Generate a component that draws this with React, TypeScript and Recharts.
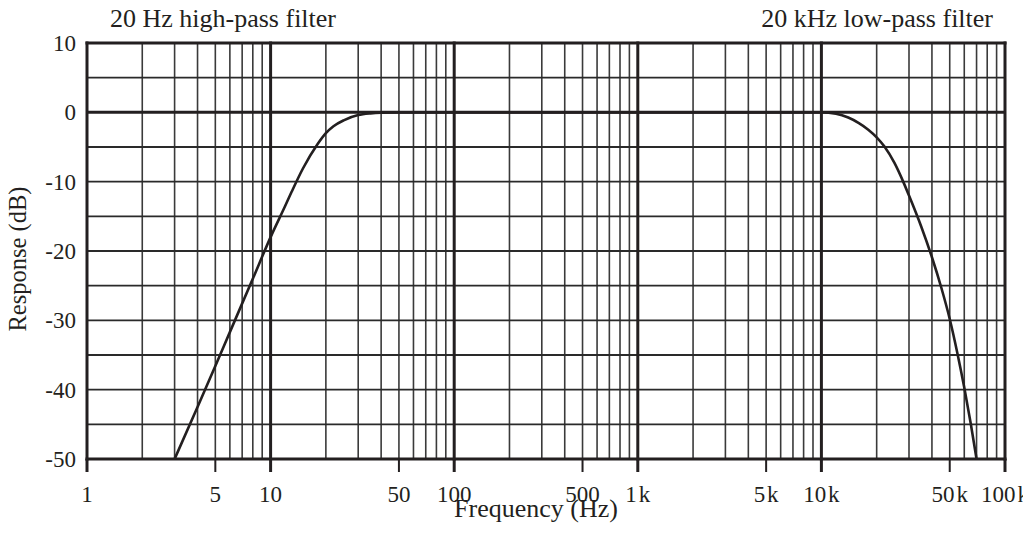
import React from 'react';
import { LineChart, Line, XAxis, YAxis, ReferenceLine } from 'recharts';

// response curve (Hz, dB)
const highPassFreq = [3, 4, 5, 6, 8, 10, 12, 13, 15, 18, 20, 22, 25, 30, 35, 40, 50];
const highPassDb = [-50, -42.5, -36.6, -31.7, -24.0, -18.0, -13.5, -11.5, -8.1, -4.6, -3.0, -2.0, -1.15, -0.4, -0.15, -0.05, 0];
const passbandFreq = [100, 1000];
const passbandDb = [0, 0];
const lowPassFreq = [10000, 12000, 14000, 16000, 18000, 20000, 22000, 25000, 28000, 30000, 35000, 40000, 45000, 50000, 55000, 60000, 65000, 70000];
const lowPassDb = [0, -0.2, -0.75, -1.55, -2.5, -3.6, -4.9, -7.3, -10.1, -12.0, -16.5, -20.9, -25.3, -29.8, -34.7, -39.7, -44.8, -50];

const xTicks = [1, 5, 10, 50, 100, 500, 1000, 5000, 10000, 50000, 100000];
const xTickLabels = ['1', '5', '10', '50', '100', '500', '1\u200ak', '5\u200ak', '10\u200ak', '50\u200ak', '100\u200ak'];
const yTicks = [-50, -40, -30, -20, -10, 0, 10];
const decades = [1, 10, 100, 1000, 10000, 100000];
const minorSteps = [2, 3, 4, 5, 6, 7, 8, 9];
const dbGrid = [-45, -40, -35, -30, -25, -20, -15, -10, -5, 5];

const data = [
  ...highPassFreq.map((f, i) => ({ f, db: highPassDb[i] })),
  ...passbandFreq.map((f, i) => ({ f, db: passbandDb[i] })),
  ...lowPassFreq.map((f, i) => ({ f, db: lowPassDb[i] })),
];

const minorFreqs = decades.slice(0, -1).flatMap((d) => minorSteps.map((m) => m * d));

const INK = '#231f20';
const FONT = "'Liberation Serif', 'Times New Roman', serif";
const W = 1031;
const H = 543;

const FreqTick = (props: any) => {
  const { x, y, payload } = props;
  const v = payload.value;
  const idx = xTicks.indexOf(v);
  const thick = decades.includes(v);
  return (
    <g>
      <line x1={x} x2={x} y1={y} y2={y + 13} stroke={INK} strokeWidth={thick ? 3 : 2} />
      <text x={x} y={y + 43} textAnchor="middle" style={{ fontFamily: FONT, fontSize: 23 }} fill={INK}>
        {xTickLabels[idx]}
      </text>
    </g>
  );
};

const App = () => {
  // cancel the body margin so the chart fills the window exactly
  return (
    <div style={{ position: 'relative', width: W, height: H, margin: -8 }}>
      <LineChart width={W} height={H} data={data} margin={{ top: 43, right: 26, bottom: 44, left: 27 }}>
        <XAxis
          dataKey="f"
          type="number"
          scale="log"
          domain={[1, 100000]}
          ticks={xTicks}
          allowDataOverflow
          axisLine={false}
          tickLine={false}
          tickSize={0}
          tickMargin={0}
          height={40}
          tick={<FreqTick />}
          interval={0}
        />
        <YAxis
          type="number"
          domain={[-50, 10]}
          ticks={yTicks}
          axisLine={false}
          tickLine={false}
          tickSize={0}
          tickMargin={11}
          width={60}
          interval={0}
          tick={{ style: { fontFamily: FONT, fontSize: 23 }, fill: INK }}
        />
        {minorFreqs.map((v) => (
          <ReferenceLine key={'mx' + v} x={v} stroke="#3a3a3a" strokeWidth={1.6} />
        ))}
        {dbGrid.map((v) => (
          <ReferenceLine key={'my' + v} y={v} stroke="#2a2a2a" strokeWidth={1.8} />
        ))}
        {decades.map((v) => (
          <ReferenceLine key={'dx' + v} x={v} stroke={INK} strokeWidth={3} strokeLinecap="square" />
        ))}
        <ReferenceLine y={0} stroke={INK} strokeWidth={3} />
        <ReferenceLine y={10} stroke={INK} strokeWidth={3} strokeLinecap="square" />
        <ReferenceLine y={-50} stroke={INK} strokeWidth={3} strokeLinecap="square" />
        <Line
          type="monotone"
          dataKey="db"
          stroke={INK}
          strokeWidth={2.6}
          dot={false}
          isAnimationActive={false}
        />
      </LineChart>
      <svg
        width={W}
        height={H}
        style={{ position: 'absolute', left: 0, top: 0, pointerEvents: 'none' }}
      >
        <g style={{ fontFamily: FONT, fontSize: 26 }} fill={INK}>
          <text x={110} y={27}>20 Hz high-pass filter</text>
          <text x={993} y={27} textAnchor="end">20 kHz low-pass filter</text>
          <text x={536} y={517} textAnchor="middle">Frequency (Hz)</text>
          <text x={26} y={259} textAnchor="middle" transform="rotate(-90 26 259)" style={{ fontSize: 24.5 }}>
            Response (dB)
          </text>
        </g>
      </svg>
    </div>
  );
};

export default App;
